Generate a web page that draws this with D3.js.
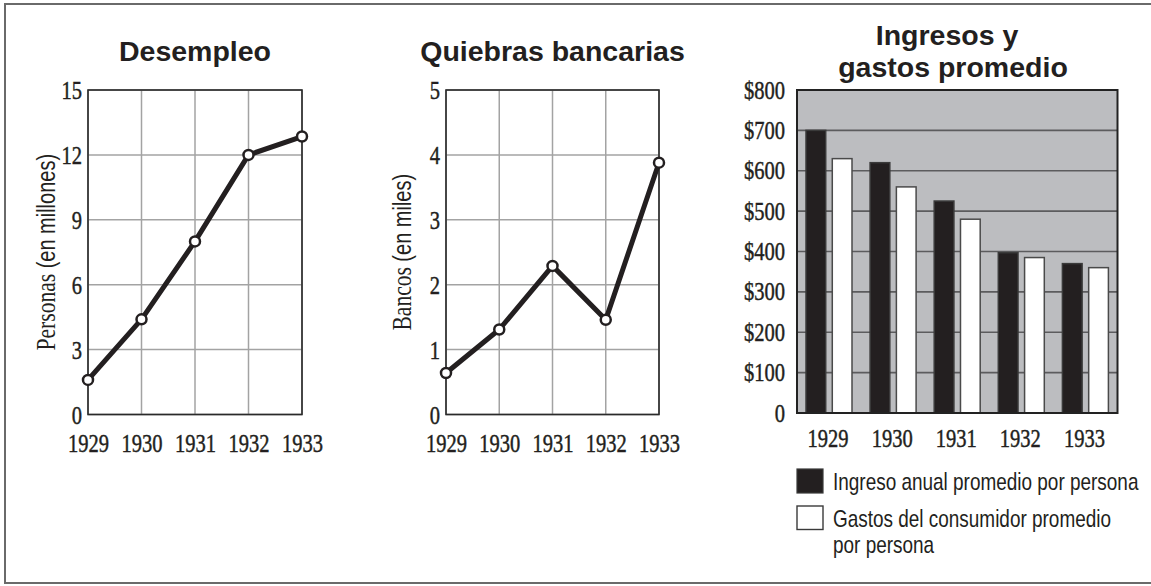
<!DOCTYPE html>
<html>
<head>
<meta charset="utf-8">
<script src="https://cdn.jsdelivr.net/npm/d3@7"></script>
<style>
  html, body { margin: 0; padding: 0; background: #fff; }
  svg { display: block; }
</style>
</head>
<body>
<svg id="chart" width="1151" height="586"></svg>
<script>
// ---------- DATA ----------
const years = [1929, 1930, 1931, 1932, 1933];
const unemployment = [1.6, 4.4, 8.0, 12.0, 12.85];      // millions of people
const unemploymentTicks = [0, 3, 6, 9, 12, 15];
const bankFailures = [0.64, 1.31, 2.29, 1.46, 3.88];   // thousands of banks
const bankTicks = [0, 1, 2, 3, 4, 5];
const income = [700, 620, 525, 397, 370];
const spending = [630, 560, 480, 385, 360];
const moneyTicks = [0, 100, 200, 300, 400, 500, 600, 700, 800];
const moneyTickLabels = ["0", "$100", "$200", "$300", "$400", "$500", "$600", "$700", "$800"];
const seriesNames = ["Ingreso anual promedio por persona", "Gastos del consumidor promedio por persona"];
const titles = ["Desempleo", "Quiebras bancarias", "Ingresos y", "gastos promedio"];

// ---------- STYLE ----------
const SERIF = "'Liberation Serif', 'Times New Roman', serif";
const SANS = "'Liberation Sans', Arial, sans-serif";
const SERIF_SIZE = 26;
const SX = 0.79;      // horizontal condensing of serif labels
const SXS = 0.79;     // condensing of sans labels
const INK = "#231f20";

const svg = d3.select("#chart");

// outer frame
svg.append("rect")
  .attr("x", 5).attr("y", 4).attr("width", 1150).attr("height", 579)
  .attr("fill", "none").attr("stroke", "#6a6a6a").attr("stroke-width", 2);

function condensed(sel, tx, ty, sx, rot) {
  return sel.attr("transform", `translate(${tx},${ty})` + (rot ? ` rotate(${rot})` : "") + ` scale(${sx},1)`);
}

function serifStyle(sel) {
  return sel.attr("font-family", SERIF).attr("font-size", SERIF_SIZE).attr("fill", INK)
    .attr("stroke", INK).attr("stroke-width", 0.45);
}

function title(text, x, y) {
  svg.append("text").attr("x", x).attr("y", y)
    .attr("text-anchor", "middle")
    .attr("font-family", SANS).attr("font-weight", "bold")
    .attr("font-size", 28.5).attr("fill", INK)
    .text(text);
}

function lineChart(opts) {
  const { left, right, top, bottom, values, ticks, yMax, serifLabel, sansLabel, titleText, labelX } = opts;
  const x = d3.scaleLinear().domain([years[0], years[years.length - 1]]).range([left, right]);
  const y = d3.scaleLinear().domain([0, yMax]).range([bottom, top]);
  const g = svg.append("g");

  // grid
  g.append("g").selectAll("line.h").data(ticks).join("line")
    .attr("x1", left).attr("x2", right)
    .attr("y1", d => y(d)).attr("y2", d => y(d))
    .attr("stroke", "#a3a3a3").attr("stroke-width", 1.5);
  g.append("g").selectAll("line.v").data(years).join("line")
    .attr("x1", d => x(d)).attr("x2", d => x(d))
    .attr("y1", top).attr("y2", bottom)
    .attr("stroke", "#a3a3a3").attr("stroke-width", 1.5);
  g.append("rect").attr("x", left).attr("y", top)
    .attr("width", right - left).attr("height", bottom - top)
    .attr("fill", "none").attr("stroke", "#2a2a2a").attr("stroke-width", 1.6);

  // axes
  const ya = g.append("g").attr("transform", `translate(${left},0)`)
    .call(d3.axisLeft(y).tickValues(ticks).tickSize(0).tickFormat(d3.format("d")));
  ya.select(".domain").remove();
  ya.selectAll("text").each(function () {
    condensed(serifStyle(d3.select(this).attr("x", null).attr("dy", null))
      .attr("text-anchor", "end"), -6, 8.5, SX);
  });
  const xa = g.append("g").attr("transform", `translate(0,${bottom})`)
    .call(d3.axisBottom(x).tickValues(years).tickSize(0).tickFormat(d3.format("d")));
  xa.select(".domain").remove();
  xa.selectAll("text").each(function () {
    condensed(serifStyle(d3.select(this).attr("y", null).attr("dy", null))
      .attr("text-anchor", "middle"), 0, 37, SX);
  });

  // y title
  const t = g.append("text").attr("text-anchor", "middle").attr("fill", INK);
  t.append("tspan").attr("font-family", SERIF).attr("font-size", 27).text(serifLabel + " ");
  t.append("tspan").attr("font-family", SANS).attr("font-size", 25).text(sansLabel);
  condensed(t, labelX, (top + bottom) / 2, 0.8, -90);

  // line + markers
  const pts = years.map((yr, i) => [yr, values[i]]);
  g.append("path").datum(pts)
    .attr("fill", "none").attr("stroke", INK).attr("stroke-width", 5)
    .attr("stroke-linejoin", "round")
    .attr("d", d3.line().x(d => x(d[0])).y(d => y(d[1])));
  g.selectAll("circle").data(pts).join("circle")
    .attr("cx", d => x(d[0])).attr("cy", d => y(d[1])).attr("r", 5)
    .attr("fill", "#fff").attr("stroke", INK).attr("stroke-width", 2.5);

  title(titleText, (left + right) / 2, 61);
}

lineChart({ left: 88, right: 302, top: 90, bottom: 414.5, values: unemployment, ticks: unemploymentTicks, yMax: 15,
  serifLabel: "Personas", sansLabel: "(en millones)", titleText: titles[0], labelX: 55 });
lineChart({ left: 446, right: 659, top: 90, bottom: 414.5, values: bankFailures, ticks: bankTicks, yMax: 5,
  serifLabel: "Bancos", sansLabel: "(en miles)", titleText: titles[1], labelX: 411 });

// ---------- BAR CHART ----------
(function () {
  const left = 797, right = 1117.5, top = 90, bottom = 413;
  const x0 = d3.scaleBand().domain(years).range([left, right]).padding(0);
  const x1 = d3.scaleBand().domain(["income", "spending"]).range([9, 55]).paddingInner(0.25);
  const y = d3.scaleLinear().domain([0, 800]).range([bottom, top]);
  const g = svg.append("g");

  g.append("rect").attr("x", left).attr("y", top).attr("width", right - left).attr("height", bottom - top)
    .attr("fill", "#bcbdc0");
  g.append("g").selectAll("line").data(moneyTicks.slice(1, -1)).join("line")
    .attr("x1", left).attr("x2", right).attr("y1", d => y(d)).attr("y2", d => y(d))
    .attr("stroke", "#5c5c5e").attr("stroke-width", 1.6);

  const groups = g.append("g").selectAll("g").data(years.map((yr, i) => ({ yr, income: income[i], spending: spending[i] })))
    .join("g").attr("transform", d => `translate(${x0(d.yr)},0)`);
  groups.selectAll("rect").data(d => [{ k: "income", v: d.income }, { k: "spending", v: d.spending }])
    .join("rect")
    .attr("x", d => x1(d.k)).attr("width", x1.bandwidth())
    .attr("y", d => y(d.v)).attr("height", d => bottom - y(d.v))
    .attr("fill", d => d.k === "income" ? INK : "#fff")
    .attr("stroke", d => d.k === "income" ? "#3a3a3a" : "#4a4a4a").attr("stroke-width", 1.5);

  g.append("rect").attr("x", left).attr("y", top).attr("width", right - left).attr("height", bottom - top)
    .attr("fill", "none").attr("stroke", "#222").attr("stroke-width", 2);

  const ya = g.append("g").attr("transform", `translate(${left},0)`)
    .call(d3.axisLeft(y).tickValues(moneyTicks).tickSize(0).tickFormat((d, i) => moneyTickLabels[i]));
  ya.select(".domain").remove();
  ya.selectAll("text").each(function () {
    condensed(serifStyle(d3.select(this).attr("x", null).attr("dy", null))
      .attr("text-anchor", "end"), -12, 8, SX);
  });
  const xa = g.append("g").attr("transform", `translate(0,${bottom})`)
    .call(d3.axisBottom(x0).tickSize(0).tickFormat(d3.format("d")));
  xa.select(".domain").remove();
  xa.selectAll("text").each(function () {
    condensed(serifStyle(d3.select(this).attr("y", null).attr("dy", null))
      .attr("text-anchor", "middle"), -1, 34, SX);
  });

  // titles
  svg.append("text").attr("x", 947).attr("y", 44.5).attr("text-anchor", "middle")
    .attr("font-family", SANS).attr("font-weight", "bold").attr("font-size", 28.5).attr("fill", INK).text(titles[2]);
  svg.append("text").attr("x", 953).attr("y", 77).attr("text-anchor", "middle")
    .attr("font-family", SANS).attr("font-weight", "bold").attr("font-size", 28.5).attr("fill", INK).text(titles[3]);

  // legend
  const lg = svg.append("g");
  lg.append("rect").attr("x", 797).attr("y", 469).attr("width", 26).attr("height", 24)
    .attr("fill", INK).attr("stroke", "#3a3a3a").attr("stroke-width", 1.2);
  lg.append("rect").attr("x", 797).attr("y", 506).attr("width", 26).attr("height", 23.5)
    .attr("fill", "#fff").attr("stroke", "#3a3a3a").attr("stroke-width", 1.4);
  const legendLines = [[seriesNames[0], 490], ["Gastos del consumidor promedio", 526.5], ["por persona", 553]];
  legendLines.forEach(([s, yy]) => {
    condensed(lg.append("text").attr("font-family", SANS).attr("font-size", 24).attr("fill", INK).text(s), 833, yy, SXS);
  });
})();
</script>
</body>
</html>
